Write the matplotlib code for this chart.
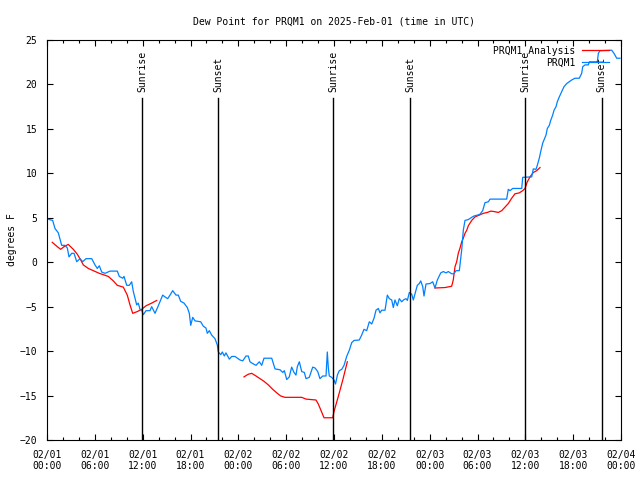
import matplotlib
matplotlib.use("Agg")
import matplotlib.pyplot as plt
import matplotlib.dates as mdates
import pandas as pd

start = pd.Timestamp("2025-02-01 00:00")

# observed dew point (PRQM1), hours after start
obs_hours = [0.04, 0.71, 1.0, 1.42, 1.72, 1.84, 2.26, 2.55, 2.76, 3.10, 3.39, 3.73, 4.14, 4.48,
             4.89, 5.61, 6.02, 6.31, 6.56, 6.86, 7.28, 7.90, 8.82, 9.07, 9.50, 9.66, 10.0, 10.32,
             10.62, 10.83, 11.25, 11.45, 11.67, 11.88, 12.08, 12.42, 12.92, 13.13, 13.55, 13.96,
             14.51, 14.80, 15.14, 15.43, 15.77, 16.18, 16.47, 16.77, 17.19, 17.60, 17.85, 18.03,
             18.28, 18.57, 19.28, 19.61, 19.94, 20.11, 20.36, 20.66, 21.07, 21.36, 21.49, 21.79,
             21.99, 22.24, 22.45, 22.87, 23.17, 23.58, 24.21, 24.55, 24.96, 25.25, 25.46, 25.80,
             26.22, 26.63, 26.93, 27.22, 28.19, 28.60, 29.23, 29.57, 29.77, 30.07, 30.39, 30.69,
             30.98, 31.23, 31.40, 31.65, 31.95, 32.28, 32.49, 32.90, 33.33, 33.62, 33.96, 34.24,
             34.58, 35.0, 35.16, 35.29, 35.41, 35.71, 36.0, 36.19, 36.44, 36.67, 36.97, 37.26,
             37.59, 37.92, 38.22, 38.51, 39.17, 39.47, 39.76, 40.10, 40.43, 40.73, 41.02, 41.27,
             41.56, 41.77, 41.98, 42.40, 42.69, 42.94, 43.24, 43.44, 43.65, 43.94, 44.19, 44.49,
             44.78, 45.03, 45.20, 45.45, 45.75, 45.95, 46.29, 46.45, 46.70, 46.88, 47.13, 47.29,
             47.54, 48.04, 48.38, 48.67, 48.96, 49.21, 49.39, 49.71, 50.05, 50.34, 50.76, 51.05,
             51.30, 51.72, 52.02, 52.22, 52.43, 52.85, 53.27, 53.56, 53.98, 54.31, 54.65, 54.94,
             55.36, 55.57, 57.66, 57.86, 58.08, 58.42, 59.55, 59.67, 60.80, 61.00, 61.34, 61.50,
             61.75, 61.93, 62.18, 62.34, 62.59, 62.76, 63.01, 63.18, 63.43, 63.60, 63.85, 64.01,
             64.26, 64.56, 64.85, 65.19, 65.51, 65.81, 66.23, 66.77, 67.07, 67.20, 67.49, 67.90,
             68.03, 69.03, 69.16, 69.37, 70.83, 71.12, 71.46, 71.87]
obs_dewp = [4.86, 4.7, 3.8, 3.3, 2.3, 1.9, 1.9, 1.6, 0.6, 1.0, 1.0, 0.06, 0.4, 0.06,
            0.4, 0.4, -0.3, -0.7, -0.4, -1.1, -1.25, -1.0, -1.0, -1.6, -1.8, -1.6, -2.6, -2.6,
            -2.2, -3.3, -4.8, -4.6, -5.3, -5.4, -5.9, -5.45, -5.45, -5.0, -5.75, -4.9,
            -3.7, -3.9, -4.1, -3.7, -3.2, -3.7, -3.7, -4.4, -4.6, -5.1, -5.75, -7.1,
            -6.2, -6.6, -6.7, -7.2, -7.4, -8.0, -7.7, -8.2, -8.6, -9.3, -10.1, -10.4,
            -10.1, -10.55, -10.2, -10.9, -10.6, -10.6, -11.0, -11.1, -10.55, -10.55, -11.2, -11.4,
            -11.6, -11.2, -11.6, -10.8, -10.8, -12.0, -12.1, -12.4, -12.2, -13.2, -12.9, -11.8,
            -12.4, -12.7, -11.75, -11.2, -12.3, -12.4, -13.1, -12.95, -11.8, -11.9, -12.3, -13.1,
            -12.8, -12.8, -10.1, -11.9, -12.8, -12.95, -13.25, -13.7, -12.65, -12.2, -12.05, -11.6,
            -10.6, -9.9, -9.05, -8.8, -8.75, -8.2, -7.55, -7.7, -6.7, -6.95, -6.3, -5.4,
            -5.2, -5.7, -5.4, -5.4, -3.7, -4.1, -4.25, -5.1, -4.25, -4.9, -4.1, -4.45,
            -4.2, -4.1, -4.3, -3.4, -3.6, -4.25, -3.1, -2.6, -2.4, -2.1, -2.75, -3.8,
            -2.45, -2.4, -2.2, -2.9, -2.0, -1.55, -1.2, -1.05, -1.2, -1.05, -1.3, -1.3,
            -0.95, -0.95, 1.4, 3.6, 4.7, 4.8, 5.05, 5.2, 5.3, 5.4, 5.8, 6.7,
            6.8, 7.1, 7.1, 8.2, 8.05, 8.3, 8.3, 9.55, 9.6, 10.5, 10.45, 10.9,
            11.7, 12.45, 13.4, 13.75, 14.3, 15.05, 15.4, 15.95, 16.55, 17.1, 17.5, 18.05,
            18.6, 19.2, 19.75, 20.1, 20.3, 20.5, 20.7, 20.7, 21.25, 22.0, 22.2, 22.2,
            22.55, 22.55, 23.5, 23.8, 23.85, 23.5, 22.95, 22.95]

# analysis dew point, three pieces with gaps between them
ana_hours_1 = [0.66, 1.29, 1.72, 2.13, 2.67, 3.30, 3.80, 4.23, 4.55, 5.18, 5.81, 6.56, 7.06,
               7.69, 8.32, 8.82, 9.57, 10.07, 10.41, 10.75, 11.33, 11.88, 12.42, 13.13, 13.76]
ana_dewp_1 = [2.24, 1.75, 1.45, 1.75, 2.0, 1.45, 0.9, 0.25, -0.3, -0.7, -0.95, -1.25, -1.4,
              -1.6, -2.1, -2.6, -2.8, -3.7, -4.8, -5.75, -5.55, -5.3, -4.9, -4.6, -4.3]
ana_hours_2 = [24.71, 25.25, 25.68, 26.22, 26.72, 27.22, 27.76, 28.31, 28.89, 29.32, 29.85,
               31.95, 32.49, 33.74, 34.03, 34.24, 34.75, 35.84, 36.0, 36.54, 37.1, 37.67]
ana_dewp_2 = [-12.9, -12.6, -12.5, -12.8, -13.1, -13.4, -13.8, -14.3, -14.75, -15.05, -15.2,
              -15.2, -15.4, -15.5, -15.95, -16.4, -17.5, -17.5, -16.8, -15.1, -13.25, -11.2]
ana_hours_3 = [48.67, 49.93, 50.76, 50.96, 51.18, 51.39, 51.59, 51.81, 52.02, 52.22, 52.43,
               52.65, 52.85, 53.27, 53.69, 54.23, 54.73, 55.23, 55.66, 56.07, 56.61, 57.04,
               57.45, 57.86, 58.29, 58.70, 59.24, 59.67, 59.96, 60.25, 60.59, 61.0, 61.43, 61.84]
ana_dewp_3 = [-2.9, -2.85, -2.7, -2.0, -0.5, 0.06, 1.0, 1.6, 2.3, 2.7, 3.25,
              3.6, 4.1, 4.7, 5.1, 5.3, 5.5, 5.6, 5.75, 5.7, 5.6, 5.8,
              6.2, 6.6, 7.2, 7.7, 7.8, 8.05, 8.3, 9.05, 9.6, 10.1, 10.3, 10.65]

event_hours = [11.95, 21.5, 35.92, 45.55, 59.98, 69.58]
event_names = ["Sunrise", "Sunset", "Sunrise", "Sunset", "Sunrise", "Sunset"]


def to_time(hours):
    return start + pd.to_timedelta(hours, unit="h")


plt.rcParams["font.family"] = ["DejaVu Sans Mono"]
plt.rcParams["font.size"] = 7

fig = plt.figure(figsize=(6.4, 4.8), dpi=100)
ax = fig.add_axes([47 / 640, 40 / 480, 574 / 640, 400 / 480])

red = "#ff0000"
blue = "#0080ff"
ax.plot(to_time(ana_hours_1), ana_dewp_1, color=red, lw=0.9, label="PRQM1 Analysis")
ax.plot(to_time(ana_hours_2), ana_dewp_2, color=red, lw=0.9)
ax.plot(to_time(ana_hours_3), ana_dewp_3, color=red, lw=0.9)
ax.plot(to_time(obs_hours), obs_dewp, color=blue, lw=0.9, label="PRQM1")

for h, name in zip(event_hours, event_names):
    t = to_time(h)
    ax.axvline(t, ymin=0, ymax=0.855, color="black", lw=1.0)
    ax.text(t, 0.87, name, transform=ax.get_xaxis_transform(), rotation=90,
            ha="center", va="bottom", fontsize=7)

ax.set_xlim(to_time(0), to_time(72))
ax.set_ylim(-20, 25)
ax.set_yticks(range(-20, 30, 5))
ax.xaxis.set_major_locator(mdates.HourLocator(byhour=[0, 6, 12, 18]))
ax.xaxis.set_minor_locator(mdates.HourLocator(byhour=range(0, 24, 2)))
ax.xaxis.set_major_formatter(mdates.DateFormatter("%m/%d\n%H:%M"))
ax.tick_params(which="both", direction="in", top=True, right=True, width=0.8)
ax.tick_params(which="major", length=4)
ax.tick_params(which="minor", length=2.5)
ax.tick_params(axis="x", pad=7)
ax.tick_params(axis="y", pad=7)
for s in ax.spines.values():
    s.set_linewidth(0.8)

ax.set_title("Dew Point for PRQM1 on 2025-Feb-01 (time in UTC)", fontsize=7, pad=11)
ax.set_ylabel("degrees F", labelpad=2)

ax.legend(loc="upper right", bbox_to_anchor=(0.99, 1.0), frameon=False, markerfirst=False,
          handlelength=2.8, handletextpad=0.7, labelspacing=0.2, borderaxespad=0.3,
          borderpad=0.3)

fig.savefig("out.png", dpi=100)
